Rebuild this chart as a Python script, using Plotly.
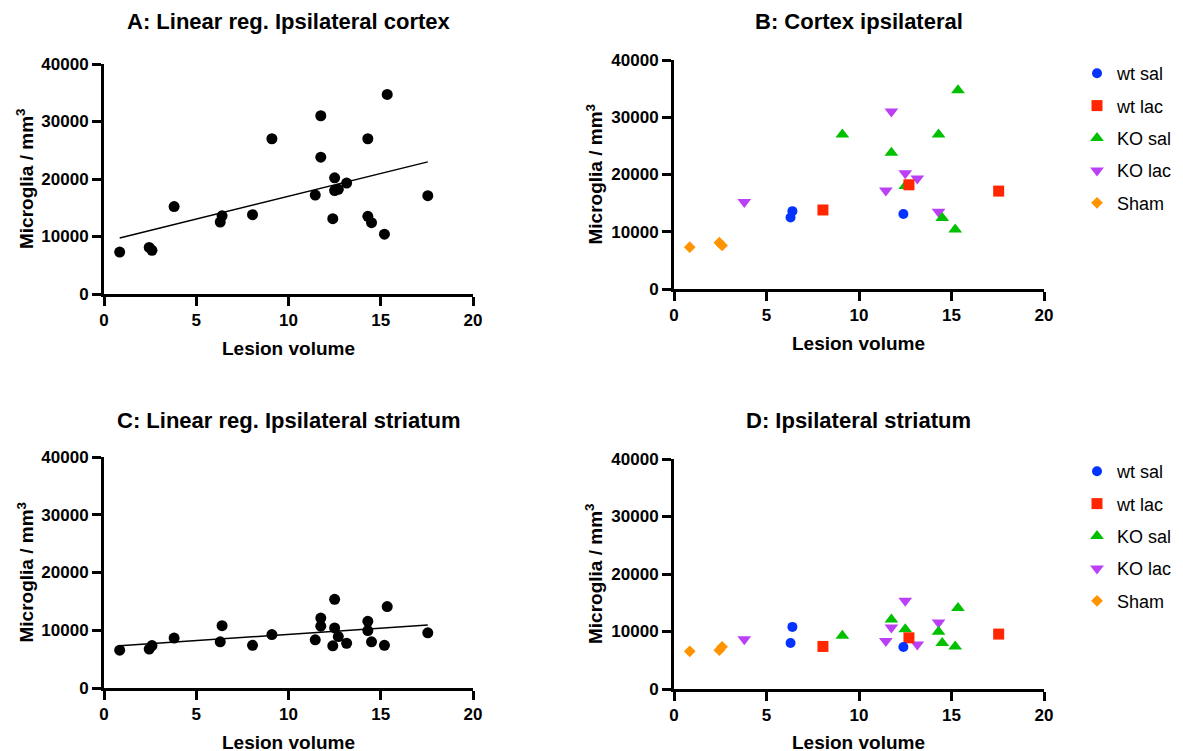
import numpy as np
import plotly.graph_objects as go

W, H = 1183, 751
OFF = 8  # page body margin in the browser

groups = ["wt sal", "wt lac", "KO sal", "KO lac", "Sham"]
colors = {"wt sal": "#0433FF", "wt lac": "#FF2600", "KO sal": "#00C000",
          "KO lac": "#BB40F5", "Sham": "#FF9300"}
symbols = {"wt sal": "circle", "wt lac": "square", "KO sal": "triangle-up",
           "KO lac": "triangle-down", "Sham": "diamond"}
sizes = {"wt sal": 10, "wt lac": 11, "KO sal": 12, "KO lac": 12, "Sham": 9}

# Lesion volume per animal, by group
lesion = {
    "wt sal": [6.4, 6.3, 12.4],
    "wt lac": [8.05, 12.7, 17.55],
    "KO sal": [9.1, 11.75, 12.5, 14.3, 14.5, 15.2, 15.35],
    "KO lac": [3.8, 11.75, 12.5, 13.15, 11.45, 14.3],
    "Sham": [0.85, 2.45, 2.6],
}
# Microglia / mm3, ipsilateral cortex
cortex = {
    "wt sal": [13600, 12500, 13100],
    "wt lac": [13800, 18200, 17100],
    "KO sal": [27000, 23800, 18000, 27000, 12400, 10400, 34700],
    "KO lac": [15200, 31000, 20200, 19300, 17200, 13500],
    "Sham": [7300, 8100, 7600],
}
# Microglia / mm3, ipsilateral striatum
striatum = {
    "wt sal": [10800, 8000, 7300],
    "wt lac": [7400, 8900, 9550],
    "KO sal": [9250, 12100, 10400, 9950, 8000, 7400, 14100],
    "KO lac": [8650, 10700, 15350, 7750, 8350, 11550],
    "Sham": [6550, 6750, 7350],
}

x_ticks = [0, 5, 10, 15, 20]
y_ticks = [0, 10000, 20000, 30000, 40000]
y_ticktext = ["0", "10000", "20000", "30000", "40000"]
titles = ["A: Linear reg. Ipsilateral cortex", "B: Cortex ipsilateral",
          "C: Linear reg. Ipsilateral striatum", "D: Ipsilateral striatum"]
x_title = "Lesion volume"
y_title = "Microglia / mm<sup>3</sup>"

FONT = "Liberation Sans, Arial, sans-serif"


def px_x(p):
    return (p - OFF) / W


def px_y(p):
    return 1 - (p - OFF) / H


# panel pixel boxes in page coordinates: (left, right, bottom, top)
boxes = {
    "A": (104, 473, 294, 64),
    "B": (674, 1044, 289, 60),
    "C": (104, 473, 688, 457),
    "D": (674, 1044, 689, 459),
}
axes_ids = {"A": ("x", "y"), "B": ("x2", "y2"), "C": ("x3", "y3"), "D": ("x4", "y4")}

fig = go.Figure()

all_x = np.concatenate([lesion[g] for g in groups])


def add_reg(panel, ydict):
    xa, ya = axes_ids[panel]
    ys = np.concatenate([ydict[g] for g in groups])
    fig.add_trace(go.Scatter(x=all_x, y=ys, mode="markers", xaxis=xa, yaxis=ya,
                             marker=dict(color="black", size=11, symbol="circle"),
                             showlegend=False))
    k, b = np.polyfit(all_x, ys, 1)
    xs = np.array([all_x.min(), all_x.max()])
    fig.add_trace(go.Scatter(x=xs, y=k * xs + b, mode="lines", xaxis=xa, yaxis=ya,
                             line=dict(color="black", width=1.5), showlegend=False))


def add_groups(panel, ydict, legend):
    xa, ya = axes_ids[panel]
    draw_order = ["Sham", "KO lac", "KO sal", "wt lac", "wt sal"]
    for g in draw_order:
        fig.add_trace(go.Scatter(
            x=lesion[g], y=ydict[g], mode="markers", name=g, xaxis=xa, yaxis=ya,
            marker=dict(color=colors[g], size=sizes[g], symbol=symbols[g], line=dict(width=0)),
            legend=legend, legendgroup=legend + g, legendrank=groups.index(g) + 1))


add_reg("A", cortex)
add_groups("B", cortex, "legend")
add_reg("C", striatum)
add_groups("D", striatum, "legend2")

axis_common = dict(range=[0, 20], tickvals=x_ticks, showline=True, linecolor="black",
                   linewidth=3, ticks="outside", ticklen=9, tickwidth=3, tickcolor="black",
                   showgrid=False, zeroline=False,
                   tickfont=dict(family=FONT, size=17, color="black", weight="bold"))
yaxis_common = dict(range=[0, 40000], tickvals=y_ticks, ticktext=y_ticktext,
                    showline=True, linecolor="black",
                    linewidth=3, ticks="outside", ticklen=9, tickwidth=3, tickcolor="black",
                    showgrid=False, zeroline=False,
                    tickfont=dict(family=FONT, size=17, color="black", weight="bold"))

layout = dict(width=W, height=H, margin=dict(l=0, r=0, t=0, b=0, autoexpand=False),
              plot_bgcolor="white", paper_bgcolor="white", showlegend=True)

for i, p in enumerate(["A", "B", "C", "D"]):
    l, r, b, t = boxes[p]
    xa, ya = axes_ids[p]
    xkey = "xaxis" if xa == "x" else "xaxis" + xa[1:]
    ykey = "yaxis" if ya == "y" else "yaxis" + ya[1:]
    layout[xkey] = dict(axis_common, domain=[px_x(l), px_x(r)], anchor=ya)
    layout[ykey] = dict(yaxis_common, domain=[px_y(b), px_y(t)], anchor=xa)

legend_common = dict(font=dict(family=FONT, size=18, color="black"),
                     xanchor="left", yanchor="top", tracegroupgap=6,
                     bgcolor="rgba(0,0,0,0)", itemclick=False)
layout["legend"] = dict(legend_common, x=px_x(1077), y=px_y(55))
layout["legend2"] = dict(legend_common, x=px_x(1077), y=px_y(453))

fig.update_layout(**layout)

ann = []
centers = {p: ((boxes[p][0] + boxes[p][1]) / 2, (boxes[p][2] + boxes[p][3]) / 2) for p in boxes}
title_y = {"A": 22, "B": 22, "C": 420, "D": 420}
xt_y = {"A": 349, "B": 343, "C": 742, "D": 742}
yt_x = {"A": 25, "B": 594, "C": 25, "D": 594}
for i, p in enumerate(["A", "B", "C", "D"]):
    cx, cy = centers[p]
    ann.append(dict(text=titles[i], x=px_x(cx), y=px_y(title_y[p]), xref="paper", yref="paper",
                    showarrow=False, xanchor="center", yanchor="middle",
                    font=dict(family=FONT, size=22, color="black", weight="bold")))
    ann.append(dict(text=x_title, x=px_x(cx), y=px_y(xt_y[p]), xref="paper", yref="paper",
                    showarrow=False, xanchor="center", yanchor="middle",
                    font=dict(family=FONT, size=19, color="black", weight="bold")))
    ann.append(dict(text=y_title, x=px_x(yt_x[p]), y=px_y(cy), xref="paper", yref="paper",
                    showarrow=False, xanchor="center", yanchor="middle", textangle=-90,
                    font=dict(family=FONT, size=19, color="black", weight="bold")))
fig.update_layout(annotations=ann)

fig.write_html("out.html")
